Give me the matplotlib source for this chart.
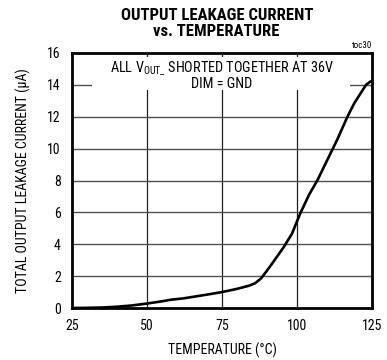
import matplotlib
matplotlib.use("Agg")
import matplotlib.pyplot as plt
from matplotlib.patches import Rectangle

# Leakage current vs. junction temperature
temperature_c = [25, 30, 35, 40, 45, 50, 55, 58, 62, 66, 70, 75, 80, 84, 86,
                 88, 91, 95.5, 98.3, 101, 104, 106.9, 110, 113.5, 116.8,
                 119.1, 121.3, 123, 124.4, 125]
leakage_ua = [0, 0.01, 0.03, 0.08, 0.16, 0.28, 0.42, 0.52, 0.6, 0.72, 0.84,
              1.0, 1.2, 1.4, 1.55, 1.85, 2.6, 3.8, 4.65, 5.9, 7.1, 8.05, 9.25,
              10.6, 12.0, 12.85, 13.5, 14.0, 14.2, 14.25]

x_ticks = [25, 50, 75, 100, 125]
y_ticks = [0, 2, 4, 6, 8, 10, 12, 14, 16]

FONT = ["Roboto Condensed", "Liberation Sans", "DejaVu Sans"]
plt.rcParams["font.family"] = FONT
plt.rcParams["mathtext.fontset"] = "custom"
plt.rcParams["mathtext.rm"] = "Roboto Condensed"

fig = plt.figure(figsize=(3.87, 3.60), dpi=100)
ax = fig.add_axes([72 / 387, 52 / 360, 300 / 387, 255 / 360])

ax.set_xlim(25, 125)
ax.set_ylim(0, 16)
ax.set_xticks(x_ticks)
ax.set_yticks(y_ticks)
ax.tick_params(length=0, labelsize=10, pad=8)

# grid
for t in x_ticks[1:-1]:
    ax.axvline(t, color="#202020", lw=0.9, zorder=1)
for v in y_ticks[1:-1]:
    ax.axhline(v, color="#505050", lw=1.0, zorder=1)

# white box behind the condition note
ax.add_patch(Rectangle((0.067, 0.855), 0.86, 0.13, transform=ax.transAxes,
                       facecolor="white", edgecolor="none", zorder=2))

ax.plot(temperature_c, leakage_ua, color="black", lw=1.9, zorder=3,
        solid_capstyle="round")

for s in ax.spines.values():
    s.set_linewidth(2.0)
    s.set_zorder(4)

ax.text(0.5, 0.942, r"ALL V$_{\mathregular{OUT\_}}$ SHORTED TOGETHER AT 36V",
        transform=ax.transAxes, ha="center", va="center", fontsize=10.3,
        zorder=5)
ax.text(0.5, 0.878, "DIM = GND", transform=ax.transAxes, ha="center",
        va="center", fontsize=10.3, zorder=5)

ax.text(1.0, 1.012, "toc30", transform=ax.transAxes, ha="right",
        va="bottom", fontsize=6.5)

ax.set_xlabel("TEMPERATURE (°C)", fontsize=10, labelpad=7)
ax.set_ylabel("TOTAL OUTPUT LEAKAGE CURRENT (µA)", fontsize=10, labelpad=12)

fig.text(0.56, 0.977, "OUTPUT LEAKAGE CURRENT\nvs. TEMPERATURE",
         ha="center", va="top", fontsize=12, fontweight="bold",
         linespacing=1.1)

fig.savefig("out.png", dpi=100, facecolor="white")
